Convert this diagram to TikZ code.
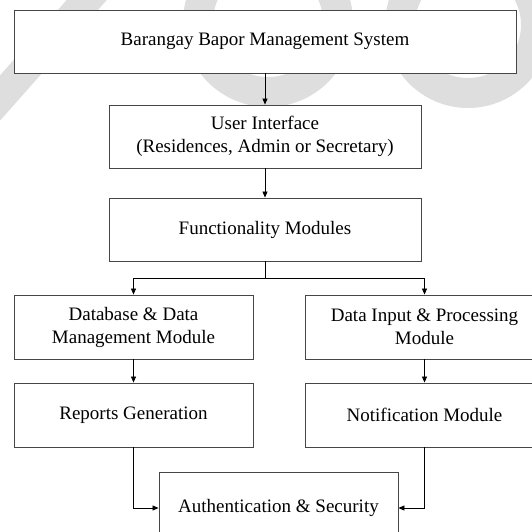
\documentclass[tikz,border=0pt]{standalone}
\usepackage{fontspec}
\setmainfont{Liberation Serif}
\usepackage{tikz}
\usetikzlibrary{positioning,arrows.meta}
\definecolor{boxline}{RGB}{70,70,70}
\definecolor{wmark}{RGB}{222,222,222}
\tikzset{
  blk/.style={draw=boxline,fill=white,line width=0.9pt,align=center,
              minimum width=239pt,minimum height=64pt,inner sep=2pt,
              font=\fontsize{19}{23}\selectfont},
  wide/.style={blk,minimum width=312pt,minimum height=63pt},
  arr/.style={line width=0.8pt,-{Triangle[length=6pt,width=5pt]}},
  conn/.style={line width=0.8pt},
  wm/.style={wmark,line width=30pt}
}

\begin{document}
\begin{tikzpicture}[x=1pt,y=-1pt]
    \useasboundingbox (0,0) rectangle (532,531);
    \clip (0,0) rectangle (532,531);
    % --- watermark behind the boxes
    \draw[wm] (100,-15) -- (-15,115);
    \draw[wm] (268,22) circle[radius=70];
    \draw[wm] (468,25) circle[radius=68];
    % --- top levels
    \node[blk,minimum width=502pt,minimum height=63pt] (bbms) at (265,41.5)
      {Barangay Bapor Management System};
    \node[wide] (ui)   at (265,136.5) {User Interface\\(Residences, Admin or Secretary)};
    \node[wide] (func) at (265,229.5) {Functionality Modules};
    \draw[arr] (bbms) -- (ui);
    \draw[arr] (ui) -- (func);
    % --- module branches
    \node[blk] (db)    at (133.5,327) {Database \& Data\\Management Module};
    \node[blk] (input) at (424.5,327) {Data Input \& Processing\\Module};
    \node[blk] (rep)   at (133.5,415) {Reports Generation};
    \node[blk] (notif) at (424.5,415) {Notification Module};
    \draw[conn] (func.south) -- ++(0,17) coordinate (fork);
    \draw[arr] (fork) -| (db);
    \draw[arr] (fork) -| (input);
    \draw[arr] (db) -- (rep);
    \draw[arr] (input) -- (notif);
    % --- security
    \node[blk,minimum height=72pt] (auth) at (278.5,508) {Authentication \& Security};
    \draw[arr] (rep) |- (auth);
    \draw[arr] (notif) |- (auth);
  \end{tikzpicture}
\end{document}
